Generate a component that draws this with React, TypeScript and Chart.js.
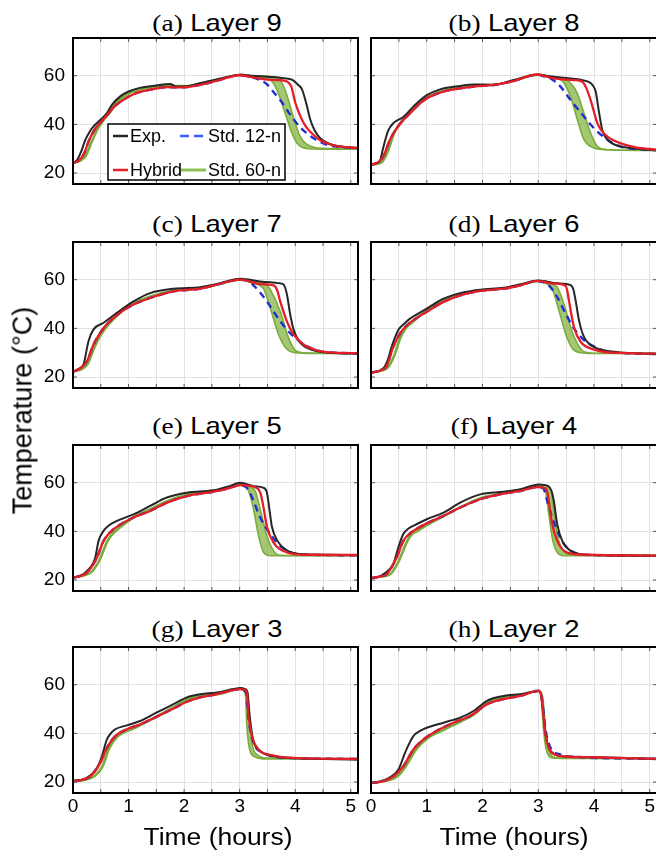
import { useEffect, useRef } from "react";
import { Chart, registerables } from "chart.js";
Chart.register(...registerables);

type Pts = [number, number][];

// ---------- axis / label data ----------
const layerNumbers = [9, 8, 7, 6, 5, 4, 3, 2];
const panelLetters = ["a", "b", "c", "d", "e", "f", "g", "h"];
const timeGrid = [0, 0.5, 1, 1.5, 2, 2.5, 3, 3.5, 4, 4.5, 5];
const tempTicks = [20, 40, 60];
const seriesNames = ["Exp.", "Std. 12-n", "Hybrid", "Std. 60-n"];
const T_MIN = 0;
const T_MAX = 5.13;
const Y_MIN = 15.5;
const Y_MAX = 75.5;

// ---------- Layer 9 ----------
const exp9: Pts = [[0,24.2],[0.07,25.2],[0.15,29],[0.22,33.5],[0.3,37],[0.37,39.2],[0.5,42],[0.6,44.3],[0.7,48],[0.85,51.5],[1.0,53.5],[1.2,55],[1.5,56],[1.75,56.6],[1.85,55.6],[2.05,55.7],[2.3,57],[2.6,58.6],[2.95,60.3],[3.02,60.5],[3.2,60],[3.5,59.6],[3.8,59],[3.95,58.3],[4.05,56.3],[4.12,54.5],[4.2,48.5],[4.27,42],[4.35,37.5],[4.45,34.3],[4.6,32.2],[4.8,31],[5.13,30.3]];
const hyb9: Pts = [[0,24.2],[0.1,25],[0.2,28],[0.28,33],[0.38,37.5],[0.5,41],[0.6,43.5],[0.73,47],[0.9,50],[1.1,52.5],[1.4,54.3],[1.7,55.3],[1.95,55.2],[2.3,56.3],[2.6,58],[3.0,60.2],[3.2,59.5],[3.45,58.5],[3.7,58.2],[3.85,57.6],[3.93,55.5],[4.0,49],[4.09,43.5],[4.18,39.5],[4.27,37],[4.45,33.5],[4.68,31.4],[5.0,30.5],[5.13,30.3]];
const s12_9: Pts = [[0,24.2],[0.1,25],[0.2,28],[0.28,33],[0.38,37.5],[0.5,41],[0.6,43.5],[0.73,47],[0.9,50],[1.1,52.5],[1.4,54.3],[1.7,55.3],[1.95,55.2],[2.3,56.3],[2.6,58],[3.0,60.2],[3.15,59.8],[3.3,58.8],[3.49,56.5],[3.62,53],[3.73,50],[3.91,44],[4.09,38.8],[4.2,36.5],[4.33,34.3],[4.57,31.6],[4.8,30.7],[5.13,30.2]];
const s60hi9: Pts = [[0,24.2],[0.12,25],[0.22,27.2],[0.31,32],[0.43,38],[0.55,42.5],[0.65,45],[0.75,48.5],[0.88,51.2],[1.0,53],[1.3,55],[1.6,55.8],[1.85,56],[2.05,55.9],[2.3,57],[2.6,58.5],[3.0,60.3],[3.3,59.9],[3.6,59.6],[3.68,59.2],[3.75,57.5],[3.82,54],[3.91,47.5],[4.0,40.5],[4.08,35.5],[4.17,32.5],[4.3,30.8],[4.5,30.2],[5.13,30]];
const s60lo9: Pts = [[0,24],[0.14,25],[0.24,27],[0.33,32],[0.45,38],[0.58,42.3],[0.68,45],[0.78,48.5],[0.9,51],[1.05,53],[1.3,54.7],[1.6,55.5],[1.85,55.8],[2.05,55.7],[2.3,56.7],[2.6,58.3],[3.0,60.1],[3.3,59.5],[3.45,59],[3.55,58.3],[3.62,56.5],[3.7,52.5],[3.82,44.5],[3.94,36.5],[4.03,32.3],[4.12,30.6],[4.25,30],[4.6,29.8],[5.13,29.8]];

// ---------- Layer 8 ----------
const exp8: Pts = [[0,23.4],[0.1,24.2],[0.16,25],[0.22,30.5],[0.31,37.5],[0.4,40.5],[0.5,42],[0.58,43],[0.76,47.3],[1.0,52],[1.24,54.4],[1.6,55.8],[1.84,56.4],[2.2,56.3],[2.56,58.2],[3.0,60.5],[3.2,59.8],[3.4,59.3],[3.76,58.3],[3.92,57.3],[3.98,56],[4.03,53.5],[4.09,45],[4.15,37.5],[4.22,34.3],[4.34,32],[4.5,30.8],[4.72,30.1],[5.13,29.4]];
const hyb8: Pts = [[0,23.4],[0.12,24.3],[0.22,26.8],[0.34,33.7],[0.46,38.4],[0.58,41.8],[0.7,44.6],[0.85,48],[1.0,50.7],[1.3,53.5],[1.6,54.8],[1.96,55.8],[2.2,56.2],[2.56,57.8],[2.98,60.5],[3.28,58.9],[3.64,58.2],[3.79,57.5],[3.86,55],[3.94,50],[4.06,40.5],[4.15,37],[4.24,35],[4.48,32.2],[4.75,30.6],[5.13,29.6]];
const s12_8: Pts = [[0,23.4],[0.12,24.3],[0.22,26.8],[0.34,33.7],[0.46,38.4],[0.58,41.8],[0.7,44.6],[0.85,48],[1.0,50.7],[1.3,53.5],[1.6,54.8],[1.96,55.8],[2.2,56.2],[2.56,57.8],[2.98,60.5],[3.1,59.7],[3.22,58.9],[3.4,55.5],[3.58,50],[3.82,43.2],[4.0,38.4],[4.24,33.7],[4.48,30.9],[4.8,29.8],[5.13,29.3]];
const s60hi8: Pts = [[0,23.4],[0.16,24.1],[0.28,28.2],[0.4,36.4],[0.5,40],[0.58,42.5],[0.7,45],[0.85,48.5],[1.0,51.2],[1.3,54],[1.6,55.2],[1.96,56],[2.2,56.3],[2.56,58],[3.0,60.4],[3.3,59.3],[3.5,58.3],[3.58,57],[3.7,52.8],[3.82,44.6],[3.94,36.4],[4.06,31],[4.24,29.6],[5.13,29.3]];
const s60lo8: Pts = [[0,23.3],[0.18,24],[0.3,28.2],[0.42,36.2],[0.52,40],[0.6,42.3],[0.72,45],[0.87,48.3],[1.02,51],[1.3,53.7],[1.6,55],[1.96,55.8],[2.2,56.1],[2.56,57.8],[3.0,60.2],[3.25,59.3],[3.4,58.3],[3.46,57.1],[3.58,51.4],[3.7,42],[3.82,33.7],[4.0,30.3],[4.24,29.6],[5.13,29.3]];

// ---------- Layer 7 ----------
const exp7: Pts = [[0,22.2],[0.12,23.5],[0.19,25.2],[0.28,34.8],[0.37,39.6],[0.55,42.3],[0.79,46.4],[1.09,51.1],[1.39,54.5],[1.81,56.3],[2.29,56.9],[2.59,58.2],[3.01,60.4],[3.37,59.3],[3.7,58.6],[3.79,58],[3.85,54],[3.91,45.7],[3.97,39.5],[4.09,34.1],[4.33,31],[4.6,30],[5.13,29.6]];
const hyb7: Pts = [[0,22.2],[0.12,23.5],[0.25,26.5],[0.37,33.4],[0.49,38.2],[0.6,41.5],[0.73,44.3],[0.9,47.3],[1.09,49.8],[1.39,52.5],[1.81,55.2],[2.29,56.3],[2.59,58],[3.01,60],[3.37,58.2],[3.61,57.7],[3.67,56],[3.73,51.1],[3.85,42.9],[3.97,37.5],[4.15,33.4],[4.39,31],[4.7,30],[5.13,29.8]];
const s12_7: Pts = [[0,22.2],[0.12,23.5],[0.25,26.5],[0.37,33.4],[0.49,38.2],[0.6,41.5],[0.73,44.3],[0.9,47.3],[1.09,49.8],[1.39,52.5],[1.81,55.2],[2.29,56.3],[2.59,58],[3.01,60],[3.15,59.5],[3.28,57],[3.49,51.1],[3.67,44.9],[3.85,39.5],[4.0,36.1],[4.21,32.7],[4.45,30.6],[4.8,29.9],[5.13,29.7]];
const s60hi7: Pts = [[0,22.2],[0.15,23.3],[0.25,25.2],[0.37,32.1],[0.49,37.5],[0.6,41],[0.73,44.3],[0.9,47.8],[1.09,50.5],[1.39,53.3],[1.81,55.7],[2.29,56.6],[2.59,58],[3.01,60.1],[3.3,59],[3.49,57.8],[3.55,56],[3.73,47],[3.88,36.1],[4.0,31],[4.15,30],[5.13,29.8]];
const s60lo7: Pts = [[0,22.1],[0.17,23.2],[0.27,25.2],[0.39,32],[0.51,37.3],[0.62,40.8],[0.75,44],[0.92,47.5],[1.1,50.2],[1.39,53],[1.81,55.5],[2.29,56.4],[2.59,57.8],[3.01,59.9],[3.25,58.5],[3.37,57.5],[3.43,56.3],[3.55,48.4],[3.7,37.5],[3.85,31.4],[4.0,30],[4.3,29.7],[5.13,29.7]];

// ---------- Layer 6 ----------
const exp6: Pts = [[0,21.8],[0.22,23.6],[0.3,27],[0.37,32.4],[0.49,39.3],[0.6,42],[0.7,44],[1.0,48.1],[1.3,52.2],[1.6,54.5],[1.96,55.9],[2.38,56.7],[2.68,58.1],[3.01,59.7],[3.34,58.5],[3.58,57.8],[3.63,56],[3.67,51.5],[3.73,43.4],[3.82,36.5],[4.0,32.4],[4.36,30.4],[4.7,29.8],[5.13,29.4]];
const hyb6: Pts = [[0,21.8],[0.18,22.8],[0.28,24.5],[0.4,32.4],[0.52,37.9],[0.64,41.2],[0.76,43.4],[1.0,46.8],[1.3,50.9],[1.6,53.6],[1.96,55.4],[2.38,56.3],[2.68,57.7],[2.98,59.5],[3.28,58.4],[3.49,57.5],[3.52,55.5],[3.55,51.5],[3.64,40.6],[3.76,34.5],[4.0,31.3],[4.36,30],[5.13,29.6]];
const s12_6: Pts = [[0,21.8],[0.18,22.8],[0.28,24.5],[0.4,32.4],[0.52,37.9],[0.64,41.2],[0.76,43.4],[1.0,46.8],[1.3,50.9],[1.6,53.6],[1.96,55.4],[2.38,56.3],[2.68,57.7],[2.98,59.5],[3.1,58.9],[3.19,57.7],[3.34,52.9],[3.49,46.1],[3.64,40],[3.82,35.2],[4.0,32.5],[4.24,30.4],[4.6,29.8],[5.13,29.6]];
const s60hi6: Pts = [[0,21.8],[0.2,22.8],[0.28,23.6],[0.4,28.4],[0.52,36.5],[0.62,40.5],[0.7,42],[0.85,45],[1.0,47.5],[1.3,51.7],[1.6,54.2],[1.96,55.7],[2.38,56.5],[2.68,57.9],[3.0,59.5],[3.2,58.7],[3.3,57.5],[3.34,56.9],[3.46,50.1],[3.58,40.6],[3.7,33.8],[3.82,30.4],[4.0,29.8],[5.13,29.8]];
const s60lo6: Pts = [[0,21.7],[0.22,22.7],[0.3,23.6],[0.42,28.4],[0.54,36.3],[0.64,40.3],[0.72,41.8],[0.87,44.8],[1.02,47.3],[1.3,51.4],[1.6,54],[1.96,55.5],[2.38,56.3],[2.68,57.7],[3.0,59.3],[3.15,58.3],[3.25,56.2],[3.37,47.4],[3.49,37.9],[3.61,31.8],[3.76,30],[4.0,29.7],[5.13,29.7]];

// ---------- Layer 5 ----------
const exp5: Pts = [[0,21],[0.15,22],[0.25,23.7],[0.4,29.2],[0.46,36.1],[0.55,40.2],[0.65,42.5],[0.79,44.3],[1.09,47],[1.39,50.5],[1.69,53.9],[2.05,55.9],[2.53,56.9],[2.8,58.5],[3.01,60],[3.25,58.6],[3.43,57.9],[3.49,56],[3.53,50],[3.58,42],[3.67,36.5],[3.85,32.2],[4.09,30.7],[4.5,30.4],[5.13,30.3]];
const hyb5: Pts = [[0,21],[0.15,21.8],[0.25,23],[0.43,29.2],[0.55,36.1],[0.65,39.2],[0.73,40.9],[0.9,43.5],[1.09,45.7],[1.39,48.4],[1.69,51.8],[2.05,54.5],[2.53,56.3],[2.8,57.7],[3.01,59],[3.31,57.8],[3.37,56],[3.42,51],[3.49,42],[3.61,35.4],[3.85,31.4],[4.21,30.4],[5.13,30.3]];
const s12_5: Pts = [[0,21],[0.15,21.8],[0.25,23],[0.43,29.2],[0.55,36.1],[0.65,39.2],[0.73,40.9],[0.9,43.5],[1.09,45.7],[1.39,48.4],[1.69,51.8],[2.05,54.5],[2.53,56.3],[2.8,57.7],[3.01,59],[3.1,58.4],[3.16,57],[3.25,52.5],[3.37,45.7],[3.55,38.9],[3.73,34],[3.91,31.5],[4.2,30.4],[5.13,30.2]];
const s60hi5: Pts = [[0,21],[0.2,22],[0.31,23],[0.46,27.9],[0.61,36.1],[0.7,39],[0.79,40.9],[0.95,43.8],[1.09,46],[1.39,49.3],[1.69,52.6],[2.05,55.2],[2.53,56.6],[2.8,58],[3.01,59.3],[3.2,58],[3.28,56.6],[3.37,49.1],[3.49,38.2],[3.61,32],[3.73,30.2],[4.0,30.1],[5.13,30.1]];
const s60lo5: Pts = [[0,20.9],[0.22,21.9],[0.33,23],[0.48,27.9],[0.63,35.9],[0.72,38.8],[0.81,40.7],[0.97,43.6],[1.11,45.8],[1.39,49],[1.69,52.3],[2.05,55],[2.53,56.4],[2.8,57.8],[3.01,59.1],[3.1,58.3],[3.16,56.6],[3.25,49.1],[3.34,38.2],[3.43,31.4],[3.55,30],[4.0,30],[5.13,30]];

// ---------- Layer 4 ----------
const exp4: Pts = [[0,20.8],[0.15,21.5],[0.22,22.4],[0.4,26.6],[0.49,33.4],[0.58,38.9],[0.68,41.3],[0.76,42.3],[1.0,45],[1.3,47.7],[1.6,51.8],[1.96,55.2],[2.38,56.3],[2.68,57.3],[3.01,59.3],[3.18,58.6],[3.24,56.5],[3.28,52.5],[3.34,43],[3.43,36.1],[3.58,32],[3.88,30.4],[5.13,30]];
const hyb4: Pts = [[0,20.8],[0.15,21.4],[0.28,22.4],[0.46,29.2],[0.58,36.1],[0.68,38.8],[0.76,40.2],[1.0,43.3],[1.3,46.4],[1.6,49.8],[1.96,53.2],[2.38,55.5],[2.68,56.6],[2.98,58.2],[3.13,57.7],[3.17,55.5],[3.19,52.5],[3.25,43],[3.34,36.1],[3.52,31.3],[3.88,30.4],[5.13,30]];
const s12_4: Pts = [[0,20.8],[0.15,21.4],[0.28,22.4],[0.46,29.2],[0.58,36.1],[0.68,38.8],[0.76,40.2],[1.0,43.3],[1.3,46.4],[1.6,49.8],[1.96,53.2],[2.38,55.5],[2.68,56.6],[2.98,58.2],[3.05,58],[3.1,57.3],[3.16,52.5],[3.25,45.7],[3.34,40.3],[3.46,34.8],[3.64,31.4],[3.9,30.3],[5.13,30]];
const s60hi4: Pts = [[0,20.8],[0.2,21.5],[0.34,22.4],[0.49,27.9],[0.64,36.1],[0.72,38.8],[0.82,40.2],[1.0,42.8],[1.3,46.3],[1.6,50],[1.96,53.8],[2.38,55.8],[2.68,57],[3.0,58.8],[3.15,57.9],[3.22,57.3],[3.28,48.4],[3.34,38.9],[3.43,32.7],[3.58,30.4],[3.8,30.2],[5.13,30.2]];
const s60lo4: Pts = [[0,20.7],[0.22,21.4],[0.36,22.4],[0.51,27.9],[0.66,35.9],[0.74,38.6],[0.84,40],[1.02,42.6],[1.3,46],[1.6,49.7],[1.96,53.5],[2.38,55.6],[2.68,56.8],[3.0,58.6],[3.08,57.8],[3.13,56.6],[3.19,47],[3.25,37.5],[3.34,31.4],[3.46,30],[3.8,30],[5.13,30]];

// ---------- Layer 3 ----------
const exp3: Pts = [[0,20.6],[0.12,20.8],[0.25,21.7],[0.43,25.8],[0.52,30.6],[0.61,37.5],[0.7,40.5],[0.76,41.7],[0.97,43.3],[1.21,45.1],[1.51,48.6],[1.81,52],[2.05,54.8],[2.29,56.1],[2.59,56.8],[2.89,58.2],[3.01,58.6],[3.1,58.2],[3.14,57],[3.18,47.2],[3.24,37.5],[3.37,32.7],[3.61,30.6],[3.97,29.9],[5.13,29.2]];
const hyb3: Pts = [[0,20.3],[0.15,20.8],[0.31,22.3],[0.49,27.9],[0.61,34.1],[0.76,38.9],[0.97,41.7],[1.21,43.7],[1.51,46.9],[1.81,50.2],[2.05,53],[2.29,54.8],[2.59,56.1],[2.89,57.9],[3.01,58.2],[3.1,57.8],[3.13,56.5],[3.16,47.2],[3.22,38.9],[3.34,33.4],[3.61,30.9],[3.97,29.9],[5.13,29.5]];
const s12_3: Pts = [[0,20.3],[0.15,20.8],[0.31,22.3],[0.49,27.9],[0.61,34.1],[0.76,38.9],[0.97,41.7],[1.21,43.7],[1.51,46.9],[1.81,50.2],[2.05,53],[2.29,54.8],[2.59,56.1],[2.89,57.9],[3.01,58.2],[3.08,57.6],[3.12,56],[3.16,45.8],[3.25,36.1],[3.43,32],[3.67,30.3],[4.0,29.8],[5.13,29.5]];
const s60hi3: Pts = [[0,20.4],[0.18,20.8],[0.37,22.3],[0.52,26.5],[0.64,34.1],[0.79,38.9],[1.09,42.3],[1.51,47.2],[1.81,51],[2.05,54.1],[2.29,55.7],[2.59,56.1],[2.89,57.9],[3.01,58.5],[3.1,58.1],[3.13,57.5],[3.18,45.8],[3.22,36.1],[3.31,31.3],[3.49,29.9],[5.13,29.7]];
const s60lo3: Pts = [[0,20.3],[0.2,20.7],[0.39,22.2],[0.54,26.3],[0.66,33.8],[0.81,38.6],[1.11,42],[1.53,46.9],[1.83,50.7],[2.07,53.8],[2.31,55.4],[2.61,55.9],[2.89,57.6],[3.01,58.2],[3.07,57.6],[3.1,56.8],[3.13,43],[3.18,33.4],[3.28,30.3],[3.49,29.5],[5.13,29.5]];

// ---------- Layer 2 ----------
const exp2: Pts = [[0,19.6],[0.15,20.2],[0.28,21.2],[0.49,25.1],[0.61,32],[0.7,36.5],[0.76,38.9],[0.88,41],[1.0,42.3],[1.3,44.4],[1.6,46.5],[1.84,49.2],[2.08,53.4],[2.38,55.4],[2.68,56.1],[3.01,57.4],[3.05,56],[3.09,48],[3.13,39.5],[3.19,34],[3.3,31.3],[3.5,30.5],[4.0,30.2],[5.13,29.5]];
const hyb2: Pts = [[0,19.6],[0.2,20.3],[0.4,22.3],[0.58,26.5],[0.76,33.4],[0.94,37.5],[1.12,40.3],[1.48,44.4],[1.78,47.2],[2.08,52],[2.38,54.1],[2.68,55.4],[3.01,57.5],[3.05,56],[3.09,48],[3.13,39.5],[3.19,34],[3.3,31.3],[3.5,30.5],[4.0,30.2],[5.13,29.5]];
const s12_2: Pts = [[0,19.6],[0.2,20.3],[0.4,22.3],[0.58,26.5],[0.76,33.4],[0.94,37.5],[1.12,40.3],[1.48,44.4],[1.78,47.2],[2.08,52],[2.38,54.1],[2.68,55.4],[3.01,57.5],[3.05,56.3],[3.09,50],[3.13,41.7],[3.22,34.1],[3.4,31.3],[3.7,30.3],[5.13,29.5]];
const s60hi2: Pts = [[0,19.6],[0.25,20.4],[0.46,22.3],[0.61,26.5],[0.79,33.4],[1.0,38.2],[1.3,41.7],[1.6,45.1],[1.84,48],[2.08,52.7],[2.38,55.1],[2.68,56],[3.01,57.4],[3.06,56.5],[3.09,53],[3.13,41.7],[3.19,33.4],[3.27,30.3],[3.5,29.9],[5.13,29.7]];
const s60lo2: Pts = [[0,19.5],[0.27,20.3],[0.48,22.2],[0.63,26.3],[0.81,33.1],[1.02,37.9],[1.32,41.4],[1.62,44.8],[1.86,47.7],[2.1,52.4],[2.4,54.8],[2.7,55.8],[3.01,57.2],[3.04,56.2],[3.06,53.5],[3.1,40.3],[3.16,32],[3.25,29.9],[3.5,29.7],[5.13,29.5]];

const panelSeries = [
  { exp: exp9, hyb: hyb9, s12: s12_9, hi: s60hi9, lo: s60lo9 },
  { exp: exp8, hyb: hyb8, s12: s12_8, hi: s60hi8, lo: s60lo8 },
  { exp: exp7, hyb: hyb7, s12: s12_7, hi: s60hi7, lo: s60lo7 },
  { exp: exp6, hyb: hyb6, s12: s12_6, hi: s60hi6, lo: s60lo6 },
  { exp: exp5, hyb: hyb5, s12: s12_5, hi: s60hi5, lo: s60lo5 },
  { exp: exp4, hyb: hyb4, s12: s12_4, hi: s60hi4, lo: s60lo4 },
  { exp: exp3, hyb: hyb3, s12: s12_3, hi: s60hi3, lo: s60lo3 },
  { exp: exp2, hyb: hyb2, s12: s12_2, hi: s60hi2, lo: s60lo2 },
];

// ---------- styles ----------
const FONT = '"Liberation Sans", Arial, Helvetica, sans-serif';
const SERIF = '"Liberation Serif", "Times New Roman", serif';
const C_EXP = "#262626";
const C_HYB = "#e41e26";
const C_S12 = "#1f2fd0";
const C_S12_LEG = "#3a5cff";
const C_S60 = "#7dac3c";
const C_S60_FILL = "rgba(128,178,62,0.72)";
const C_S60_LEG = "#8cc152";

const ROW_TOP = [38, 242, 445, 647];
const TITLE_BASE = [31, 232, 434, 637];
const PLOT_H = 146;
const COLS = [
  { plotL: 73, plotR: 358, canvasL: 0, center: 216.5 },
  { plotL: 371, plotR: 657, canvasL: 355, center: 513.5 },
];

const toXY = (p: Pts) => p.map(([x, y]) => ({ x, y }));

const zeroPad = (sc: any) => {
  sc.paddingTop = 0;
  sc.paddingBottom = 0;
  sc.paddingLeft = 0;
  sc.paddingRight = 0;
};

const framePlugin = {
  id: "frame",
  afterDatasetsDraw(chart: any) {
    const { ctx, chartArea: a, scales } = chart;
    ctx.save();
    ctx.strokeStyle = "#555";
    ctx.lineWidth = 1;
    ctx.beginPath();
    for (const v of timeGrid) {
      const x = scales.x.getPixelForValue(v);
      ctx.moveTo(x, a.top);
      ctx.lineTo(x, a.top + 4);
      ctx.moveTo(x, a.bottom);
      ctx.lineTo(x, a.bottom - 4);
    }
    for (const v of tempTicks) {
      const y = scales.y.getPixelForValue(v);
      ctx.moveTo(a.left, y);
      ctx.lineTo(a.left + 4, y);
      ctx.moveTo(a.right, y);
      ctx.lineTo(a.right - 4, y);
    }
    ctx.stroke();
    ctx.strokeStyle = "#000";
    ctx.lineWidth = 2;
    ctx.strokeRect(a.left, a.top, a.right - a.left, a.bottom - a.top);
    ctx.restore();
  },
};

const legendColors = [C_EXP, C_S12_LEG, C_HYB, C_S60_LEG];

const legendPlugin = {
  id: "boxLegend",
  afterDraw(chart: any) {
    const { ctx, chartArea: a } = chart;
    const L = a.left + 35;
    const T = a.top + 86;
    const W = 177;
    const H = 56;
    ctx.save();
    ctx.fillStyle = "#fff";
    ctx.fillRect(L, T, W, H);
    ctx.strokeStyle = "#000";
    ctx.lineWidth = 1.5;
    ctx.strokeRect(L, T, W, H);
    const cells = [
      { sx: 5, ex: 20, tx: 22, y: 12 },
      { sx: 72, ex: 95, tx: 100, y: 12 },
      { sx: 5, ex: 20, tx: 22, y: 46 },
      { sx: 73, ex: 98, tx: 100, y: 46 },
    ];
    ctx.font = `18px ${FONT}`;
    ctx.textBaseline = "middle";
    cells.forEach((c, i) => {
      ctx.beginPath();
      ctx.strokeStyle = legendColors[i];
      ctx.lineWidth = i === 3 ? 3 : 2.5;
      ctx.setLineDash(i === 1 ? [9, 5] : []);
      ctx.moveTo(L + c.sx, T + c.y);
      ctx.lineTo(L + c.ex, T + c.y);
      ctx.stroke();
      ctx.setLineDash([]);
      ctx.fillStyle = "#000";
      ctx.fillText(seriesNames[i], L + c.tx, T + c.y + 1);
    });
    ctx.restore();
  },
};

function Panel({ idx }: { idx: number }) {
  const ref = useRef<HTMLCanvasElement>(null);
  const col = idx % 2;
  const row = Math.floor(idx / 2);
  const isLeft = col === 0;
  const isBottom = row === 3;
  const g = COLS[col];
  const padLeft = isLeft ? 0 : g.plotL - g.canvasL;
  const yWidth = isLeft ? g.plotL - g.canvasL : 0;
  const width = g.plotR + 3 - g.canvasL;
  const xHeight = isBottom ? 31 : 0;
  const height = 2 + PLOT_H + xHeight + 3;
  const top = ROW_TOP[row] - 2;

  useEffect(() => {
    const s = panelSeries[idx];
    const common = {
      pointRadius: 0,
      cubicInterpolationMode: "monotone" as const,
      fill: false,
    };
    const chart = new Chart(ref.current!, {
      type: "line",
      data: {
        datasets: [
          { ...common, label: "Hybrid", data: toXY(s.hyb), borderColor: C_HYB, borderWidth: 2.3 },
          { ...common, label: "Exp.", data: toXY(s.exp), borderColor: C_EXP, borderWidth: 2 },
          { ...common, label: "Std. 12-n", data: toXY(s.s12), borderColor: C_S12, borderWidth: 2.4, borderDash: [7, 5] },
          { ...common, label: "Std. 60-n", data: toXY(s.hi), borderColor: C_S60, borderWidth: 1.6 },
          { ...common, label: "Std. 60-n (lower)", data: toXY(s.lo), borderColor: C_S60, borderWidth: 1.6, fill: "-1", backgroundColor: C_S60_FILL },
        ],
      },
      options: {
        animation: false,
        responsive: false,
        events: [],
        layout: { autoPadding: false, padding: { left: padLeft, right: 3, top: 2, bottom: 3 } },
        plugins: { legend: { display: false }, tooltip: { enabled: false }, title: { display: false } },
        scales: {
          x: {
            type: "linear",
            min: T_MIN,
            max: T_MAX,
            afterBuildTicks: (sc: any) => { sc.ticks = timeGrid.map((v) => ({ value: v })); },
            afterFit: (sc: any) => { sc.height = xHeight; zeroPad(sc); },
            grid: { color: "#e2e2e2", lineWidth: 1, drawTicks: false },
            border: { display: false },
            ticks: {
              display: isBottom,
              padding: 2,
              color: "#000",
              font: { size: 19, family: FONT },
              maxRotation: 0,
              autoSkip: false,
              callback: (v: any) => (Number.isInteger(v) ? String(v) : ""),
            },
          },
          y: {
            type: "linear",
            min: Y_MIN,
            max: Y_MAX,
            afterBuildTicks: (sc: any) => { sc.ticks = tempTicks.map((v) => ({ value: v })); },
            afterFit: (sc: any) => { sc.width = yWidth; zeroPad(sc); },
            grid: { color: "#e2e2e2", lineWidth: 1, drawTicks: false },
            border: { display: false },
            ticks: {
              display: isLeft,
              padding: 8,
              color: "#000",
              font: { size: 19, family: FONT },
              autoSkip: false,
              callback: (v: any) => String(v),
            },
          },
        },
      } as any,
      plugins: idx === 0 ? [framePlugin, legendPlugin] : [framePlugin],
    });
    return () => chart.destroy();
  }, []);

  return (
    <canvas
      ref={ref}
      width={width}
      height={height}
      style={{ position: "absolute", left: g.canvasL, top, width, height }}
    />
  );
}

export default function App() {
  return (
    <div
      style={{
        position: "absolute",
        left: 0,
        top: 0,
        width: 656,
        height: 856,
        overflow: "hidden",
        background: "#fff",
        fontFamily: FONT,
        color: "#000",
      }}
    >
      {layerNumbers.map((layer, i) => {
        const col = i % 2;
        const row = Math.floor(i / 2);
        return (
          <div
            key={"t" + i}
            style={{
              position: "absolute",
              left: COLS[col].center - 150,
              top: TITLE_BASE[row] - 20.3,
              width: 300,
              textAlign: "center",
              fontSize: 24,
              lineHeight: "24px",
              whiteSpace: "nowrap",
              transform: "scaleX(1.14)",
            }}
          >
            <span style={{ fontFamily: SERIF }}>({panelLetters[i]})</span> Layer {layer}
          </div>
        );
      })}
      {layerNumbers.map((_, i) => (
        <Panel key={"p" + i} idx={i} />
      ))}
      {COLS.map((c, i) => (
        <div
          key={"x" + i}
          style={{
            position: "absolute",
            left: c.center - 150 + (i === 0 ? 1 : 0.5),
            top: 825.5,
            width: 300,
            textAlign: "center",
            fontSize: 23,
            lineHeight: "23px",
            whiteSpace: "nowrap",
            transform: "scaleX(1.15)",
          }}
        >
          Time (hours)
        </div>
      ))}
      <div
        style={{
          position: "absolute",
          left: 23 - 150,
          top: 410 - 13.5,
          width: 300,
          height: 27,
          textAlign: "center",
          fontSize: 27,
          lineHeight: "27px",
          whiteSpace: "nowrap",
          transform: "rotate(-90deg)",
          transformOrigin: "50% 50%",
        }}
      >
        Temperature (°C)
      </div>
    </div>
  );
}
